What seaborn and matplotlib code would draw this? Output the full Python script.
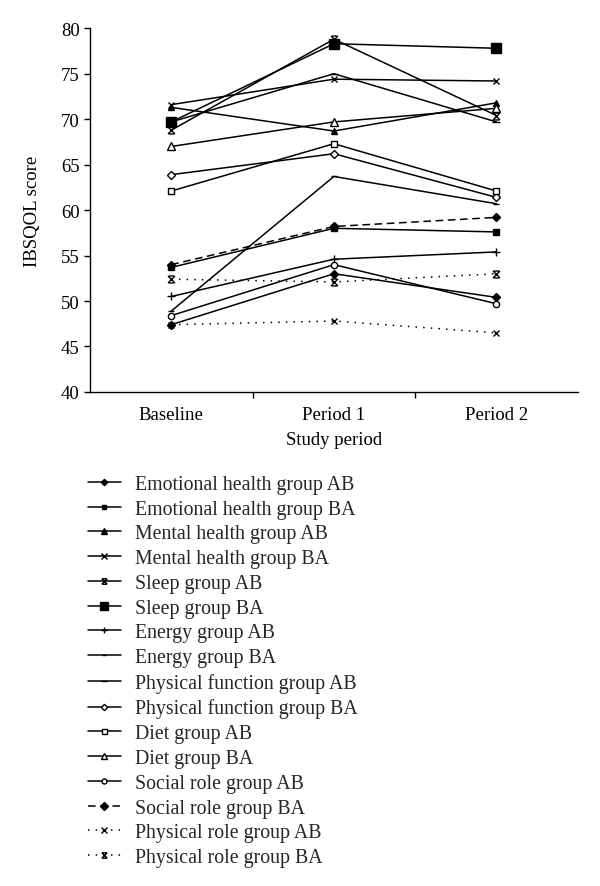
import matplotlib
matplotlib.use("Agg")
import matplotlib.pyplot as plt
from matplotlib.path import Path
from matplotlib.lines import Line2D
import seaborn as sns
import numpy as np
import pandas as pd

periods = ["Baseline", "Period 1", "Period 2"]

series_names = [
    "Emotional health group AB",
    "Emotional health group BA",
    "Mental health group AB",
    "Mental health group BA",
    "Sleep group AB",
    "Sleep group BA",
    "Energy group AB",
    "Energy group BA",
    "Physical function group AB",
    "Physical function group BA",
    "Diet group AB",
    "Diet group BA",
    "Social role group AB",
    "Social role group BA",
    "Physical role group AB",
    "Physical role group BA",
]

emotional_ab = [47.4, 53.0, 50.4]
emotional_ba = [53.7, 58.0, 57.6]
mental_ab = [71.3, 68.7, 71.8]
mental_ba = [71.6, 74.4, 74.2]
sleep_ab = [68.8, 78.8, 70.4]
sleep_ba = [69.7, 78.3, 77.8]
energy_ab = [50.5, 54.6, 55.4]
energy_ba = [48.9, 63.7, 60.7]
physfunc_ab = [69.7, 75.0, 69.7]
physfunc_ba = [63.9, 66.2, 61.4]
diet_ab = [62.1, 67.3, 62.1]
diet_ba = [67.0, 69.7, 71.2]
social_ab = [48.4, 54.0, 49.7]
social_ba = [54.0, 58.2, 59.2]
physrole_ab = [47.4, 47.8, 46.5]
physrole_ba = [52.4, 52.1, 53.0]

values = [emotional_ab, emotional_ba, mental_ab, mental_ba, sleep_ab, sleep_ba,
          energy_ab, energy_ba, physfunc_ab, physfunc_ba, diet_ab, diet_ba,
          social_ab, social_ba, physrole_ab, physrole_ba]

# custom "x with bars" marker
xstar = Path([(-1, -1), (1, 1), (-1, 1), (1, -1), (-0.8, 1), (0.8, 1), (-0.8, -1), (0.8, -1)],
             [Path.MOVETO, Path.LINETO, Path.MOVETO, Path.LINETO,
              Path.MOVETO, Path.LINETO, Path.MOVETO, Path.LINETO])

# style per series: marker, size, filled, linestyle
styles = [
    dict(marker="D", ms=4.0, mfc="black", ls="-"),
    dict(marker="s", ms=4.0, mfc="black", ls="-"),
    dict(marker="^", ms=5.0, mfc="black", ls="-"),
    dict(marker="x", ms=5.0, mfc="black", ls="-"),
    dict(marker=xstar, ms=5.0, mfc="black", ls="-"),
    dict(marker="s", ms=7.0, mfc="black", ls="-"),
    dict(marker="+", ms=6.0, mfc="black", ls="-"),
    dict(marker="_", ms=4.0, mfc="black", ls="-"),
    dict(marker="_", ms=6.0, mfc="black", ls="-"),
    dict(marker="D", ms=4.0, mfc="white", ls="-"),
    dict(marker="s", ms=4.5, mfc="white", ls="-"),
    dict(marker="^", ms=5.5, mfc="white", ls="-"),
    dict(marker="o", ms=4.5, mfc="white", ls="-"),
    dict(marker="D", ms=4.5, mfc="black", ls=(0, (5, 3))),
    dict(marker="x", ms=5.0, mfc="black", ls=(0, (1, 4))),
    dict(marker=xstar, ms=5.0, mfc="black", ls=(0, (1, 4))),
]

sns.set_theme(style="white")
plt.rcParams["font.family"] = ["Liberation Serif", "DejaVu Serif"]
plt.rcParams["font.size"] = 13.5

fig = plt.figure(figsize=(6.0, 8.87), dpi=100)
ax = fig.add_axes([0.15, 0.557, 0.813, 0.41])

xpos = np.arange(len(periods))
handles = []
for name, vals, st in zip(series_names, values, styles):
    df = pd.DataFrame({"x": xpos, "y": vals})
    sns.lineplot(data=df, x="x", y="y", ax=ax, color="black", linewidth=1.1,
                 linestyle=st["ls"], marker=st["marker"], markersize=st["ms"],
                 markerfacecolor=st["mfc"], markeredgecolor="black",
                 markeredgewidth=1.0, legend=False)
    handles.append(Line2D([], [], color="black", linewidth=1.1, linestyle=st["ls"],
                          marker=st["marker"], markersize=st["ms"] * 0.8,
                          markerfacecolor=st["mfc"], markeredgecolor="black",
                          markeredgewidth=1.0, label=name))

ax.set_xlim(-0.5, 2.5)
ax.set_ylim(40, 80)
ax.set_yticks(np.arange(40, 81, 5))
ax.set_xticks(xpos)
ax.set_xticklabels(periods)
ax.set_xticks([0.5, 1.5], minor=True)
ax.tick_params(axis="x", which="major", length=0, pad=10, labelsize=13.5, colors="black")
ax.tick_params(axis="x", which="minor", length=4, width=1, direction="out", bottom=True, color="black")
ax.tick_params(axis="y", which="major", length=4, width=1, direction="out", left=True,
               labelsize=13.5, colors="black")
for s in ["top", "right"]:
    ax.spines[s].set_visible(False)
for s in ["left", "bottom"]:
    ax.spines[s].set_color("black")
    ax.spines[s].set_linewidth(1.0)
ax.set_xlabel("Study period", fontsize=13.5, color="black", labelpad=6)
ax.set_ylabel("IBSQOL score", fontsize=13.5, color="black", labelpad=14)

fig.legend(handles=handles, loc="upper left", bbox_to_anchor=(0.133, 0.4725),
           frameon=False, fontsize=14.3, handlelength=1.66, handletextpad=0.7,
           labelspacing=0.29, borderaxespad=0)

fig.savefig("out.png", dpi=100, facecolor="white")
